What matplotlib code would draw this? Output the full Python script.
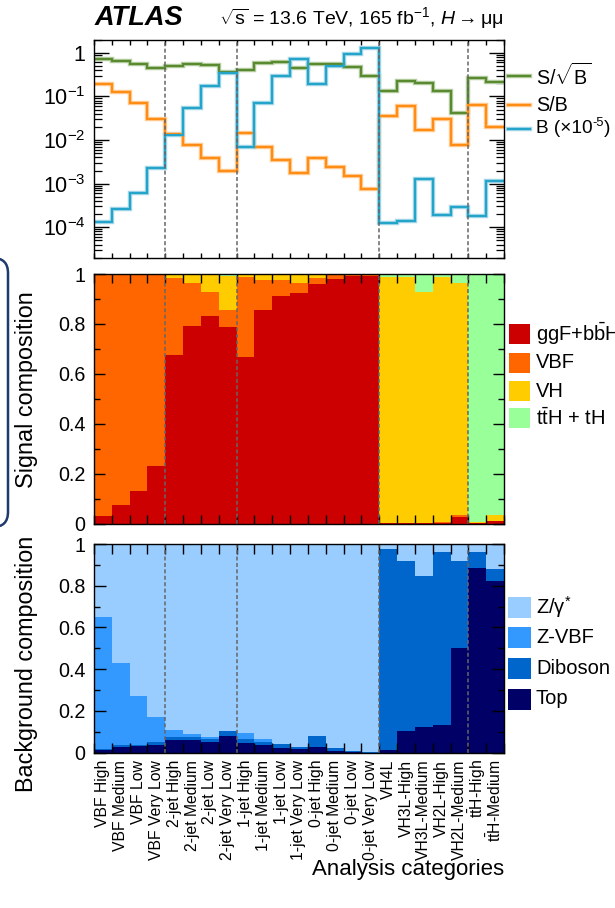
import matplotlib
matplotlib.use('Agg')
import matplotlib.pyplot as plt
import numpy as np
from matplotlib.lines import Line2D
from matplotlib.patches import Rectangle, FancyBboxPatch

plt.rcParams['font.family'] = ['Liberation Sans', 'DejaVu Sans']
plt.rcParams['mathtext.fontset'] = 'custom'
plt.rcParams['mathtext.rm'] = 'Liberation Sans'
plt.rcParams['mathtext.it'] = 'Liberation Sans:italic'
plt.rcParams['mathtext.bf'] = 'Liberation Sans:bold'

# ---------------- data ----------------
categories = ['VBF High', 'VBF Medium', 'VBF Low', 'VBF Very Low',
              '2-jet High', '2-jet Medium', '2-jet Low', '2-jet Very Low',
              '1-jet High', '1-jet Medium', '1-jet Low', '1-jet Very Low',
              '0-jet High', '0-jet Medium', '0-jet Low', '0-jet Very Low',
              'VH4L', 'VH3L-High', 'VH3L-Medium', 'VH2L-High', 'VH2L-Medium',
              r't$\bar{\mathrm{t}}$H-High', r't$\bar{\mathrm{t}}$H-Medium']

s_over_sqrtb = [0.73, 0.64, 0.56, 0.46, 0.51, 0.56, 0.53, 0.37, 0.40, 0.57, 0.62, 0.46,
                0.54, 0.54, 0.48, 0.29, 0.132, 0.23, 0.199, 0.132, 0.042, 0.27, 0.217]
s_over_b = [0.195, 0.124, 0.070, 0.030, 0.014, 0.0078, 0.0039, 0.0019, 0.0147, 0.0068, 0.0035,
            0.00175, 0.0039, 0.0024, 0.0015, 0.00077, 0.036, 0.061, 0.0166, 0.0297, 0.0078,
            0.063, 0.020]
b_scaled = [1.32e-4, 2.6e-4, 6.0e-4, 2.3e-3, 0.0132, 0.054, 0.169, 0.336, 0.0070, 0.070, 0.30,
            0.71, 0.188, 0.49, 0.92, 1.30, 1.28e-4, 1.37e-4, 1.28e-3, 1.9e-4, 2.9e-4, 1.85e-4,
            1.15e-3]

sig_ggf = [0.033, 0.074, 0.131, 0.230, 0.675, 0.790, 0.830, 0.786, 0.668, 0.857, 0.912, 0.924,
           0.959, 0.980, 0.990, 0.992, 0.002, 0.003, 0.004, 0.004, 0.027, 0.002, 0.010]
sig_vbf = [0.966, 0.925, 0.868, 0.768, 0.309, 0.173, 0.097, 0.070, 0.320, 0.120, 0.065, 0.040,
           0.025, 0.015, 0.007, 0.006, 0.001, 0.001, 0.001, 0.002, 0.009, 0.000, 0.002]
sig_vh = [0.001, 0.001, 0.001, 0.002, 0.014, 0.035, 0.070, 0.136, 0.011, 0.022, 0.022, 0.035,
          0.015, 0.004, 0.002, 0.001, 0.984, 0.983, 0.922, 0.981, 0.927, 0.005, 0.024]
sig_tth = [0.000, 0.000, 0.000, 0.000, 0.002, 0.002, 0.003, 0.008, 0.001, 0.001, 0.001, 0.001,
           0.001, 0.001, 0.001, 0.001, 0.013, 0.013, 0.073, 0.013, 0.037, 0.993, 0.964]

bkg_top = [0.014, 0.029, 0.030, 0.038, 0.061, 0.061, 0.053, 0.080, 0.046, 0.037, 0.024, 0.016,
           0.026, 0.008, 0.002, 0.000, 0.013, 0.104, 0.121, 0.133, 0.500, 0.883, 0.823]
bkg_diboson = [0.004, 0.006, 0.006, 0.012, 0.016, 0.012, 0.012, 0.025, 0.019, 0.016, 0.016, 0.010,
               0.052, 0.013, 0.006, 0.001, 0.963, 0.815, 0.727, 0.830, 0.419, 0.077, 0.056]
bkg_zvbf = [0.632, 0.396, 0.236, 0.121, 0.032, 0.016, 0.010, 0.000, 0.031, 0.011, 0.003, 0.003,
            0.000, 0.003, 0.002, 0.001, 0.000, 0.000, 0.000, 0.000, 0.000, 0.000, 0.000]
bkg_zgamma = [0.350, 0.569, 0.728, 0.829, 0.891, 0.911, 0.925, 0.895, 0.904, 0.936, 0.957, 0.971,
              0.922, 0.976, 0.990, 0.998, 0.024, 0.081, 0.152, 0.037, 0.081, 0.040, 0.121]

group_boundaries = [4, 8, 16, 21]

# ---------------- figure ----------------
W, H = 615, 908
fig = plt.figure(figsize=(W / 100, H / 100), dpi=100)
renderer = fig.canvas.get_renderer()


def ax_at(x0, y0, x1, y1):
    return fig.add_axes([x0 / W, 1 - y1 / H, (x1 - x0) / W, (y1 - y0) / H])


def fx(px):
    return px / W


def fy(py):
    return 1 - py / H


def text_with_sup(x, y, base, sup, tail, size, **kw):
    """Draw base + superscript + tail on one line (x, y in pixels from top-left)."""
    t1 = fig.text(fx(x), fy(y), base, fontsize=size, va='center', ha='left', **kw)
    bb = t1.get_window_extent(renderer)
    x2 = bb.x1 + 0.3
    t2 = fig.text(x2 / W, fy(y - size * 0.42), sup, fontsize=size * 0.68, va='center', ha='left', **kw)
    bb2 = t2.get_window_extent(renderer)
    t3 = fig.text((bb2.x1 + 0.3) / W, fy(y), tail, fontsize=size, va='center', ha='left', **kw)
    return t3


XL, XR = 94, 504
ax1 = ax_at(XL, 39.7, XR, 257.7)
ax2 = ax_at(XL, 274, XR, 523.8)
ax3 = ax_at(XL, 544, XR, 752.7)

n = len(categories)
edges = np.arange(n + 1)
centers = np.arange(n) + 0.5

LBL = 14.2  # tick label size (pt)

# ---- top panel ----
series = [
    (s_over_sqrtb, '#5a8a30', '#b9d0a8', r'S/$\sqrt{\mathrm{B}}$'),
    (s_over_b, '#ff8c14', '#ffcf98', 'S/B'),
    (b_scaled, '#25a4c9', '#a8d9e9', ('B (×10', '-5', ')')),
]
for vals, col, halo, lab in series:
    ax1.stairs(vals, edges, baseline=None, color=halo, lw=3.2, zorder=2)
    ax1.stairs(vals, edges, baseline=None, color=col, lw=1.6, zorder=3)
ax1.set_yscale('log')
ax1.set_ylim(2e-5, 2)
ax1.set_xlim(0, n)
ax1.set_yticks([1e-4, 1e-3, 1e-2, 1e-1, 1])
ax1.set_yticklabels([r'$10^{-4}$', r'$10^{-3}$', r'$10^{-2}$', r'$10^{-1}$', '1'])
ax1.yaxis.set_minor_locator(matplotlib.ticker.LogLocator(base=10, subs=np.arange(2, 10), numticks=20))
ax1.yaxis.set_minor_formatter(matplotlib.ticker.NullFormatter())
ax1.set_xticks(edges)
ax1.set_xticklabels([])
ax1.tick_params(axis='y', which='major', length=11, width=1.0)
ax1.tick_params(axis='y', which='minor', length=5.5, width=0.9)
ax1.tick_params(axis='x', which='major', length=3.8, width=1.0)

# ---- middle panel ----
sig_stack = [(sig_ggf, '#cc0000', r'ggF+b$\bar{\mathrm{b}}$H'),
             (sig_vbf, '#ff6600', 'VBF'),
             (sig_vh, '#ffcc00', 'VH'),
             (sig_tth, '#99ff99', r't$\bar{\mathrm{t}}$H + tH')]
bottom = np.zeros(n)
for vals, col, lab in sig_stack:
    ax2.bar(centers, vals, width=1.0, bottom=bottom, color=col, edgecolor='none', zorder=1)
    bottom = bottom + np.array(vals)
ax2.set_xlim(0, n)
ax2.set_ylim(0, 1)
ax2.set_yticks([0, 0.2, 0.4, 0.6, 0.8, 1])
ax2.set_yticklabels(['0', '0.2', '0.4', '0.6', '0.8', '1'])
ax2.set_yticks(np.arange(0.1, 1.0, 0.2), minor=True)
ax2.set_xticks(edges)
ax2.set_xticklabels([])
ax2.tick_params(axis='y', which='major', length=8, width=1.0)
ax2.tick_params(axis='y', which='minor', length=4, width=1.0)
ax2.tick_params(axis='x', which='major', length=6.5, width=1.0)
ax2.set_ylabel('Signal composition', fontsize=16.8, loc='top')

# ---- bottom panel ----
bkg_stack = [(bkg_top, '#000066', 'Top'),
             (bkg_diboson, '#0066cc', 'Diboson'),
             (bkg_zvbf, '#3399ff', 'Z-VBF'),
             (bkg_zgamma, '#99ccff', r'Z/$\mathregular{\gamma}^{*}$')]
bottom = np.zeros(n)
for vals, col, lab in bkg_stack:
    ax3.bar(centers, vals, width=1.0, bottom=bottom, color=col, edgecolor='none', zorder=1)
    bottom = bottom + np.array(vals)
ax3.set_xlim(0, n)
ax3.set_ylim(0, 1)
ax3.set_yticks([0, 0.2, 0.4, 0.6, 0.8, 1])
ax3.set_yticklabels(['0', '0.2', '0.4', '0.6', '0.8', '1'])
ax3.set_yticks(np.arange(0.1, 1.0, 0.2), minor=True)
ax3.set_xticks(edges)
ax3.set_xticklabels([])
ax3.set_xticks(centers, minor=True)
ax3.set_xticklabels(categories, minor=True, rotation=90, fontsize=11.3, va='top', ha='center')
ax3.tick_params(axis='y', which='major', length=8.5, width=1.0)
ax3.tick_params(axis='y', which='minor', length=4.5, width=1.0)
ax3.tick_params(axis='x', which='major', length=7, width=1.0)
ax3.set_ylabel('Background composition', fontsize=16.8, loc='top')

ax2.yaxis.set_label_coords((38 - XL) / (XR - XL), (523.8 - 291) / (523.8 - 274))
ax3.yaxis.set_label_coords((38 - XL) / (XR - XL), (752.7 - 536) / (752.7 - 544))

for ax in (ax1, ax2, ax3):
    ax.tick_params(which='both', direction='in', left=True, right=True, top=True, bottom=True,
                   labelsize=LBL, pad=6)
    for s in ax.spines.values():
        s.set_linewidth(1.0)
        s.set_zorder(5)
    for b in group_boundaries:
        ax.axvline(b, color='#666666', lw=1.1, ls=(0, (2.6, 1.6)), zorder=4)
ax1.tick_params(axis='y', labelsize=15.5)
ax3.tick_params(axis='x', which='minor', length=0, pad=5, labelsize=11.3)

# ---------------- legends ----------------
leg_top_y = [75.7, 105.3, 128.7]
for (vals, col, halo, lab), yy in zip(series, leg_top_y):
    fig.add_artist(Line2D([fx(508), fx(530)], [fy(yy), fy(yy)], color=halo, lw=3.2))
    fig.add_artist(Line2D([fx(508), fx(530)], [fy(yy), fy(yy)], color=col, lw=1.6))
    if isinstance(lab, tuple):
        text_with_sup(535.5, yy, lab[0], lab[1], lab[2], 13.7)
    else:
        fig.text(fx(536.5), fy(yy), lab, fontsize=14.2, va='center', ha='left')

leg_mid_y = [334, 362.7, 391, 418.3]
for (vals, col, lab), yy in zip(sig_stack, leg_mid_y):
    fig.add_artist(Rectangle((fx(509), fy(yy + 10)), fx(21), 20 / H, facecolor=col,
                             edgecolor='none', transform=fig.transFigure))
    fig.text(fx(536), fy(yy), lab, fontsize=14.5, va='center', ha='left')

leg_bot_y = [607.5, 637.5, 668, 699]
for (vals, col, lab), yy in zip(bkg_stack[::-1], leg_bot_y):
    fig.add_artist(Rectangle((fx(508), fy(yy + 10.5)), fx(23), 21 / H, facecolor=col,
                             edgecolor='none', transform=fig.transFigure))
    fig.text(fx(536), fy(yy), lab, fontsize=14.5, va='center', ha='left')

# ---------------- titles ----------------
fig.text(fx(95), fy(18), 'ATLAS', fontsize=19.5, fontweight='bold', fontstyle='italic',
         va='center', ha='left')
fig.text(fx(219), fy(18),
         r'$\sqrt{\mathrm{s}}$ = 13.6 TeV, 165 fb$^{\mathregular{-1}}$, $H\rightarrow$μμ',
         fontsize=14, va='center', ha='left')
fig.text(fx(504), fy(870), 'Analysis categories', fontsize=16, va='center', ha='right')

# navy rounded frame at the left edge
fig.add_artist(FancyBboxPatch((-0.4, (H - 527) / 100), 0.48, 2.69,
                              boxstyle='round,pad=0,rounding_size=0.15',
                              transform=fig.dpi_scale_trans, facecolor='none',
                              edgecolor='#1f3a6e', lw=1.8))

fig.savefig('out.png', dpi=100)
